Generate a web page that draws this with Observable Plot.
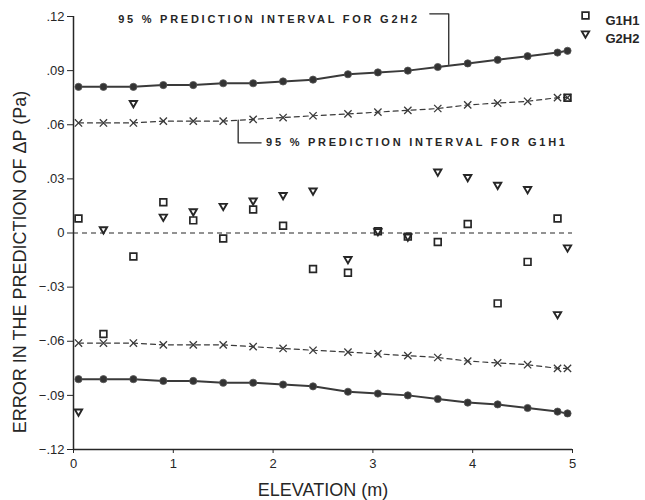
<!DOCTYPE html>
<html>
<head>
<meta charset="utf-8">
<script src="https://cdn.jsdelivr.net/npm/d3@7"></script>
<script src="https://cdn.jsdelivr.net/npm/@observablehq/plot@0.6"></script>
<style>
  html, body { margin: 0; padding: 0; background: #fff; }
  #chart { width: 645px; height: 500px; }
  svg { overflow: visible; }
</style>
</head>
<body>
<div id="chart"></div>
<script>
// ---- data ----
const elevation = [0.05, 0.3, 0.6, 0.9, 1.2, 1.5, 1.8, 2.1, 2.4, 2.75, 3.05, 3.35, 3.65, 3.95, 4.25, 4.55, 4.85, 4.95];
const g1h1Error = [0.008, -0.056, -0.013, 0.017, 0.007, -0.003, 0.013, 0.004, -0.020, -0.022, 0.001, -0.002, -0.005, 0.005, -0.039, -0.016, 0.008, 0.075];
const g2h2Error = [-0.099, 0.002, 0.072, 0.009, 0.012, 0.015, 0.018, 0.021, 0.0235, -0.0145, 0.001, -0.002, 0.034, 0.031, 0.0267, 0.0243, -0.045, -0.008];
const g1h1Upper = [0.061, 0.061, 0.061, 0.062, 0.062, 0.062, 0.063, 0.064, 0.065, 0.066, 0.067, 0.068, 0.069, 0.071, 0.072, 0.073, 0.075, 0.075];
const g1h1Lower = [-0.061, -0.061, -0.061, -0.062, -0.062, -0.062, -0.063, -0.064, -0.065, -0.066, -0.067, -0.068, -0.069, -0.071, -0.072, -0.073, -0.075, -0.075];
const g2h2Upper = [0.081, 0.081, 0.081, 0.082, 0.082, 0.083, 0.083, 0.084, 0.085, 0.088, 0.089, 0.090, 0.092, 0.094, 0.096, 0.098, 0.100, 0.101];
const g2h2Lower = [-0.081, -0.081, -0.081, -0.082, -0.082, -0.083, -0.083, -0.084, -0.085, -0.088, -0.089, -0.090, -0.092, -0.094, -0.095, -0.097, -0.099, -0.100];

const xTicks = [0, 1, 2, 3, 4, 5];
const xTickLabels = ["0", "1", "2", "3", "4", "5"];
const yTicks = [-0.12, -0.09, -0.06, -0.03, 0, 0.03, 0.06, 0.09, 0.12];
const yTickLabels = ["−.12", "−.09", "−.06", "−.03", "0", ".03", ".06", ".09", ".12"];

const seriesNames = ["G1H1", "G2H2"];
const xLabel = "ELEVATION (m)";
const yLabel = "ERROR IN THE PREDICTION OF ΔP (Pa)";
const annotG2 = "95 % PREDICTION INTERVAL FOR G2H2";
const annotG1 = "95 % PREDICTION INTERVAL FOR G1H1";

// ---- tables built from the arrays ----
const rows = elevation.map((e, i) => ({
  e, g1: g1h1Error[i], g2: g2h2Error[i],
  g1u: g1h1Upper[i], g1l: g1h1Lower[i], g2u: g2h2Upper[i], g2l: g2h2Lower[i]
}));

const ink = "#262626";
const lineInk = "#3a3a3a";
const annotFont = { fontSize: 11, fontWeight: "bold", fill: ink };

// leader lines for the two annotations (data coordinates)
const leaderG2 = [{x: 3.57, y: 0.1215}, {x: 3.76, y: 0.1215}, {x: 3.76, y: 0.0935}];
const leaderG1 = [{x: 1.65, y: 0.0625}, {x: 1.65, y: 0.0500}, {x: 1.88, y: 0.0500}];

const chart = Plot.plot({
  width: 645,
  height: 500,
  marginLeft: 73,
  marginRight: 73,
  marginTop: 16,
  marginBottom: 51,
  style: { fontFamily: "'Liberation Sans', Arial, sans-serif", background: "#fff", color: ink },
  x: { domain: [0, 5] },
  y: { domain: [-0.12, 0.12] },
  marks: [
    // axes
    Plot.ruleX([0], { y1: -0.12, y2: 0.12, stroke: ink, strokeWidth: 1.5 }),
    Plot.ruleY([-0.12], { x1: 0, x2: 5, stroke: ink, strokeWidth: 1.5 }),
    Plot.axisY({ ticks: yTicks, tickFormat: d => yTickLabels[yTicks.indexOf(d)], tickSize: 6, tickPadding: 3, fontSize: 13, stroke: ink, label: null }),
    Plot.axisX({ ticks: xTicks, tickFormat: d => xTickLabels[xTicks.indexOf(d)], tickSize: 4, tickPadding: 5, fontSize: 13, stroke: ink, label: null }),
    Plot.text([xLabel], { frameAnchor: "bottom", dy: 41, fontSize: 18, fill: ink, lineAnchor: "middle" }),
    Plot.text([yLabel], { frameAnchor: "left", dx: -53, dy: 29, rotate: -90, fontSize: 18, fill: ink, textAnchor: "middle" }),

    // zero line
    Plot.ruleY([0], { x1: 0, x2: 5, stroke: ink, strokeWidth: 1.2, strokeDasharray: "5,4" }),

    // G1H1 prediction interval (dashed with x marks)
    Plot.line(rows, { x: "e", y: "g1u", stroke: lineInk, strokeWidth: 1.2, strokeDasharray: "5,4" }),
    Plot.line(rows, { x: "e", y: "g1l", stroke: lineInk, strokeWidth: 1.2, strokeDasharray: "5,4" }),
    Plot.dot(rows, { x: "e", y: "g1u", symbol: "times", r: 3.4, stroke: lineInk, strokeWidth: 1.3 }),
    Plot.dot(rows, { x: "e", y: "g1l", symbol: "times", r: 3.4, stroke: lineInk, strokeWidth: 1.3 }),

    // G2H2 prediction interval (solid with filled dots)
    Plot.line(rows, { x: "e", y: "g2u", stroke: lineInk, strokeWidth: 2 }),
    Plot.line(rows, { x: "e", y: "g2l", stroke: lineInk, strokeWidth: 2 }),
    Plot.dot(rows, { x: "e", y: "g2u", r: 3.6, fill: "#333", stroke: "#555", strokeWidth: 0.8 }),
    Plot.dot(rows, { x: "e", y: "g2l", r: 3.6, fill: "#333", stroke: "#555", strokeWidth: 0.8 }),

    // errors
    Plot.dot(rows, { x: "e", y: "g1", symbol: "square", r: 3.8, fill: "none", stroke: ink, strokeWidth: 1.7 }),
    Plot.dot(rows, { x: "e", y: "g2", symbol: "triangle", rotate: 180, r: 2.7, fill: "none", stroke: ink, strokeWidth: 1.9 }),

    // annotations
    Plot.line(leaderG2, { x: "x", y: "y", stroke: ink, strokeWidth: 1.3 }),
    Plot.line(leaderG1, { x: "x", y: "y", stroke: ink, strokeWidth: 1.3 }),
    Plot.text([annotG2], { x: 3.47, y: 0.1185, textAnchor: "end", ...annotFont }),
    Plot.text([annotG1], { x: 1.93, y: 0.0500, textAnchor: "start", ...annotFont }),

    // legend (right margin)
    Plot.dot([seriesNames[0]], { frameAnchor: "top-right", dx: 13, dy: -1, symbol: "square", r: 3.8, fill: "none", stroke: ink, strokeWidth: 1.7 }),
    Plot.dot([seriesNames[1]], { frameAnchor: "top-right", dx: 13, dy: 17, symbol: "triangle", rotate: 180, r: 2.7, fill: "none", stroke: ink, strokeWidth: 1.9 }),
    Plot.text([seriesNames[0]], { frameAnchor: "top-right", dx: 33, dy: -1, textAnchor: "start", fontSize: 13, fontWeight: "bold", fill: ink }),
    Plot.text([seriesNames[1]], { frameAnchor: "top-right", dx: 33, dy: 17, textAnchor: "start", fontSize: 13, fontWeight: "bold", fill: ink })
  ]
});

// letter spacing for the annotation labels
chart.querySelectorAll("text").forEach(t => {
  if (t.textContent.startsWith("95 %")) t.setAttribute("letter-spacing", "2.75");
});

document.getElementById("chart").appendChild(chart);
</script>
</body>
</html>
